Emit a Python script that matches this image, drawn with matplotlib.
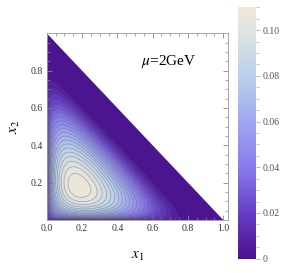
import numpy as np
import matplotlib.pyplot as plt
from matplotlib.colors import LinearSegmentedColormap, Normalize
from matplotlib.patches import Polygon
import matplotlib.cm as cm

# distribution: peak near (0.18, 0.18), max ~0.1095,
# falls off towards the axes quickly and vanishes near x1 + x2 ~ 0.82
peak_x = 0.18
peak_value = 0.1095
cut_s = 0.82
power_b = 1.3
power_a = peak_x * power_b / (cut_s - 2 * peak_x)

levels = [0.005 * i for i in range(1, 22)]
cbar_ticks = [0, 0.02, 0.04, 0.06, 0.08, 0.10]
cbar_labels = ['0', '0.02', '0.04', '0.06', '0.08', '0.10']
x_ticks = [0.0, 0.2, 0.4, 0.6, 0.8, 1.0]
y_ticks = [0.2, 0.4, 0.6, 0.8]
vmax = 0.11

lake = LinearSegmentedColormap.from_list('lake', [
    (0.00, (0.29, 0.07, 0.55)),
    (0.18, (0.40, 0.24, 0.78)),
    (0.36, (0.53, 0.48, 0.92)),
    (0.55, (0.63, 0.66, 0.94)),
    (0.73, (0.73, 0.82, 0.92)),
    (0.91, (0.88, 0.89, 0.88)),
    (1.00, (0.94, 0.91, 0.84)),
])

plt.rcParams['font.family'] = ['Liberation Serif', 'DejaVu Serif']
plt.rcParams['mathtext.fontset'] = 'stix'

fig = plt.figure(figsize=(2.87, 2.73), dpi=100)
ax = fig.add_axes([0.1627, 0.1941, 0.6307, 0.684])

g = np.linspace(0, 1, 500)
X, Y = np.meshgrid(g, g)
tail = np.clip(cut_s - X - Y, 0, None)
f = (X * Y) ** power_a * tail ** power_b
f0 = (peak_x * peak_x) ** power_a * (cut_s - 2 * peak_x) ** power_b
Z = peak_value * f / f0

norm = Normalize(0, vmax)
bounds = [0] + levels + [1]
band_colors = [lake(norm(min(lo + 0.0015, vmax))) for lo in bounds[:-1]]
cf = ax.contourf(X, Y, Z, levels=bounds, colors=band_colors)
cl = ax.contour(X, Y, Z, levels=levels, colors=[(0.3, 0.3, 0.3, 0.45)], linewidths=0.5)
tri = Polygon([(0, 0), (1, 0), (0, 1)], closed=True, transform=ax.transData)
cf.set_clip_path(tri)
cl.set_clip_path(tri)

ax.set_xlim(0, 1.025)
ax.set_ylim(0, 1.0)
ax.set_xticks(x_ticks)
ax.set_xticklabels(['%.1f' % t for t in x_ticks])
ax.set_yticks(y_ticks)
ax.set_yticklabels(['%.1f' % t for t in y_ticks])
ax.set_xticks(np.arange(0, 1.01, 0.05), minor=True)
ax.set_yticks(np.arange(0.05, 1.0, 0.05), minor=True)
ax.tick_params(which='both', direction='in', top=True, right=True, color='#888888',
               labelsize=7, labelcolor='#333333', pad=3)
ax.tick_params(which='major', length=3.5, width=0.6)
ax.tick_params(which='minor', length=2, width=0.5)
for s in ax.spines.values():
    s.set_color('#999999')
    s.set_linewidth(0.6)

ax.set_xlabel('$x_1$', fontsize=11, labelpad=12)
ax.set_ylabel('$x_2$', fontsize=11, labelpad=6)
ax.text(0.52, 0.85, r'$\mu$=2GeV', transform=ax.transAxes, fontsize=11, va='center')

cax = fig.add_axes([0.829, 0.0524, 0.0627, 0.921])
sm = cm.ScalarMappable(norm=norm, cmap=lake)
cb = fig.colorbar(sm, cax=cax)
cb.outline.set_visible(False)
cb.set_ticks(cbar_ticks)
cb.set_ticklabels(cbar_labels)
cax.set_yticks(np.arange(0, 0.1101, 0.005), minor=True)
cax.tick_params(which='both', direction='out', color='#aaaaaa', labelsize=7,
                labelcolor='#555555', pad=2)
cax.tick_params(which='major', length=3, width=0.6)
cax.tick_params(which='minor', length=2, width=0.5)

fig.savefig('out.png', dpi=100)
